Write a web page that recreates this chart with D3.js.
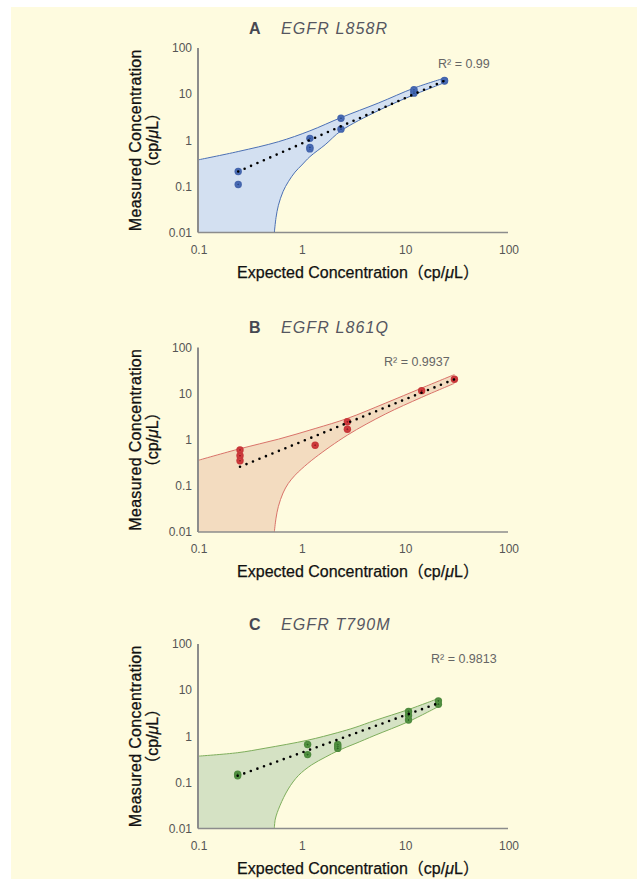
<!DOCTYPE html>
<html>
<head>
<meta charset="utf-8">
<style>
  body { margin: 0; background: #fff; }
  svg text { font-family: "Liberation Sans", Arial, "Noto Sans CJK JP", sans-serif; }
</style>
</head>
<body>
<svg id="chart" width="637" height="879"></svg>
<script src="https://d3js.org/d3.v7.min.js"></script>
<script>
  // panels
  const panelLetters = ["A", "B", "C"];
  const panelGenes = ["EGFR L858R", "EGFR L861Q", "EGFR T790M"];
  const rSquared = ["R² = 0.99", "R² = 0.9937", "R² = 0.9813"];

  // axis ticks
  const xTicks = [0.1, 1, 10, 100];
  const yTicks = [0.01, 0.1, 1, 10, 100];
  const tickLabels = { 0.01: "0.01", 0.1: "0.1", 1: "1", 10: "10", 100: "100" };

  // measured points (expected, measured)
  const expectedA = [0.245, 0.245, 1.21, 1.21, 1.21, 2.42, 2.42, 12.3, 12.3, 12.3, 24.3, 24.3];
  const measuredA = [0.21, 0.11, 1.1, 0.65, 0.7, 3.0, 1.74, 12.5, 11.5, 10.5, 19.8, 19.3];
  const expectedB = [0.255, 0.255, 0.255, 1.36, 2.79, 2.79, 14.6, 30.3];
  const measuredB = [0.6, 0.45, 0.35, 0.76, 2.45, 1.69, 11.6, 20.5];
  const expectedC = [0.242, 0.242, 1.15, 1.15, 2.25, 2.25, 2.25, 10.9, 10.9, 10.9, 21.2, 21.2];
  const measuredC = [0.139, 0.15, 0.66, 0.4, 0.66, 0.6, 0.545, 3.44, 2.81, 2.25, 5.85, 4.95];

  // regression line ends
  const fitA = [[0.245, 0.21], [24.3, 19.5]];
  const fitB = [[0.255, 0.26], [30.3, 20.5]];
  const fitC = [[0.242, 0.139], [21.2, 5.2]];

  // confidence band edges
  const upperXA = [0.1, 0.245, 0.6, 1.21, 2.42, 5.56, 12.3, 24.3];
  const upperYA = [0.375, 0.57, 0.93, 1.6, 3.1, 6.4, 13.5, 22.3];
  const lowerXA = [0.548, 0.569, 0.6, 0.665, 0.748, 0.869, 1.01, 1.21, 1.7, 2.42, 5.56, 12.3, 24.3];
  const lowerYA = [0.01, 0.021, 0.039, 0.077, 0.126, 0.204, 0.29, 0.44, 0.8, 1.6, 4.4, 9.7, 17.7];

  const upperXB = [0.1, 0.255, 0.6, 1.36, 2.79, 6.5, 14.6, 30.3];
  const upperYB = [0.357, 0.64, 1.03, 1.75, 2.9, 6.2, 13.2, 25.9];
  const lowerXB = [0.548, 0.569, 0.6, 0.665, 0.748, 0.869, 1.01, 1.36, 2.79, 6.5, 14.6, 30.3];
  const lowerYB = [0.01, 0.02, 0.036, 0.07, 0.113, 0.17, 0.235, 0.41, 1.26, 3.6, 8.3, 16.7];

  const upperXC = [0.1, 0.242, 0.446, 1.15, 2.25, 3.31, 5.17, 10.9, 21.2];
  const upperYC = [0.37, 0.44, 0.55, 0.82, 1.2, 1.55, 2.2, 3.8, 6.6];
  const lowerXC = [0.548, 0.56, 0.62, 0.748, 0.935, 1.26, 1.7, 2.28, 3.31, 5.17, 10.9, 21.2];
  const lowerYC = [0.01, 0.016, 0.031, 0.072, 0.14, 0.24, 0.35, 0.49, 0.69, 1.05, 2.08, 4.4];

  const panels = [
    { exp: expectedA, meas: measuredA, fit: fitA, ux: upperXA, uy: upperYA, lx: lowerXA, ly: lowerYA,
      fill: "#d3e0f1", edge: "#4c70b4", dot: "#4566ad", dotDark: "#2c4a86", top: 48, rx: 240, ry: 20 },
    { exp: expectedB, meas: measuredB, fit: fitB, ux: upperXB, uy: upperYB, lx: lowerXB, ly: lowerYB,
      fill: "#f3dcc0", edge: "#d9736a", dot: "#c8383a", dotDark: "#8e2024", top: 347.5, rx: 186, ry: 18.5 },
    { exp: expectedC, meas: measuredC, fit: fitC, ux: upperXC, uy: upperYC, lx: lowerXC, ly: lowerYC,
      fill: "#d5e2c4", edge: "#7eae5c", dot: "#4f8b3f", dotDark: "#2f6325", top: 644, rx: 233, ry: 19 }
  ];

  const svg = d3.select("#chart");
  svg.append("rect").attr("x", 11).attr("y", 7).attr("width", 626).attr("height", 872).attr("fill", "#fefbdf");

  const left = 198, right = 508, plotH = 184.5;

  panels.forEach((p, i) => {
    const x = d3.scaleLog().domain([0.1, 100]).range([left, right]);
    const y = d3.scaleLog().domain([0.01, 100]).range([p.top + plotH, p.top]);
    const g = svg.append("g");

    // band
    const curve = d3.curveCatmullRom.alpha(0.5);
    const line = d3.line().x(d => x(d[0])).y(d => y(d[1])).curve(curve);
    const up = p.ux.map((v, k) => [v, p.uy[k]]);
    const lo = p.lx.map((v, k) => [v, p.ly[k]]);
    const upPath = line(up);
    const loRevPath = line(lo.slice().reverse()).replace(/^M/, "L");
    g.append("path")
      .attr("d", upPath + loRevPath + `L${x(0.1)},${y(0.01)}Z`)
      .attr("fill", p.fill);
    g.append("path").attr("d", upPath).attr("fill", "none").attr("stroke", p.edge).attr("stroke-width", 1);
    g.append("path").attr("d", line(lo)).attr("fill", "none").attr("stroke", p.edge).attr("stroke-width", 1);

    // axes
    g.append("line").attr("x1", left).attr("x2", left).attr("y1", p.top).attr("y2", p.top + plotH)
      .attr("stroke", "#8c8c8c").attr("stroke-width", 2);
    g.append("line").attr("x1", left).attr("x2", right).attr("y1", p.top + plotH).attr("y2", p.top + plotH)
      .attr("stroke", "#8c8c8c").attr("stroke-width", 1.5);

    g.selectAll(".yt").data(yTicks).join("text")
      .attr("x", left - 6).attr("y", d => y(d) + 4.3)
      .attr("text-anchor", "end").attr("font-size", 12).attr("fill", "#555")
      .text(d => tickLabels[d]);
    g.selectAll(".xt").data(xTicks).join("text")
      .attr("x", d => x(d) + 1).attr("y", p.top + plotH + 21)
      .attr("text-anchor", "middle").attr("font-size", 12).attr("fill", "#555")
      .text(d => tickLabels[d]);

    // axis titles
    const xt = g.append("text")
      .attr("x", 358).attr("y", p.top + plotH + 45)
      .attr("text-anchor", "middle").attr("font-size", 16).attr("fill", "#111")
      .attr("stroke", "#111").attr("stroke-width", 0.25);
    xt.append("tspan").text("Expected Concentration（cp/");
    xt.append("tspan").attr("font-style", "italic").text("μ");
    xt.append("tspan").text("L）");

    const cy = p.top + plotH / 2;
    g.append("text")
      .attr("transform", `translate(141,${cy}) rotate(-90)`)
      .attr("text-anchor", "middle").attr("font-size", 16).attr("letter-spacing", 0.3)
      .attr("fill", "#111").attr("stroke", "#111").attr("stroke-width", 0.3)
      .text("Measured Concentration");
    const yt2 = g.append("text")
      .attr("transform", `translate(158,${cy}) rotate(-90)`)
      .attr("text-anchor", "middle").attr("font-size", 16)
      .attr("fill", "#111").attr("stroke", "#111").attr("stroke-width", 0.3);
    yt2.append("tspan").text("（cp/");
    yt2.append("tspan").attr("font-style", "italic").text("μ");
    yt2.append("tspan").text("L）");

    // title
    g.append("text").attr("x", 249).attr("y", p.top - 14.5)
      .attr("font-size", 16).attr("font-weight", "bold").attr("fill", "#474852")
      .text(panelLetters[i]);
    g.append("text").attr("x", 281).attr("y", p.top - 14.5)
      .attr("font-size", 16).attr("font-style", "italic").attr("letter-spacing", 1.1).attr("fill", "#55565f")
      .text(panelGenes[i]);

    // r squared
    g.append("text").attr("x", left + p.rx).attr("y", p.top + p.ry)
      .attr("font-size", 12.5).attr("fill", "#666")
      .text(rSquared[i]);

    // points
    const pts = p.exp.map((v, k) => [v, p.meas[k]]);
    g.selectAll(".pt").data(pts).join("circle")
      .attr("cx", d => x(d[0])).attr("cy", d => y(d[1])).attr("r", 3.7)
      .attr("fill", p.dot);
    g.selectAll(".pc").data(pts).join("circle")
      .attr("cx", d => x(d[0])).attr("cy", d => y(d[1])).attr("r", 1.4)
      .attr("fill", p.dotDark).attr("stroke", d3.color(p.dot).brighter(0.6)).attr("stroke-width", 0.6);

    // dotted regression line
    g.append("line")
      .attr("x1", x(p.fit[0][0])).attr("y1", y(p.fit[0][1]))
      .attr("x2", x(p.fit[1][0])).attr("y2", y(p.fit[1][1]))
      .attr("stroke", "#000").attr("stroke-width", 2.6)
      .attr("stroke-linecap", "round").attr("stroke-dasharray", "0 7");
  });
</script>
</body>
</html>
